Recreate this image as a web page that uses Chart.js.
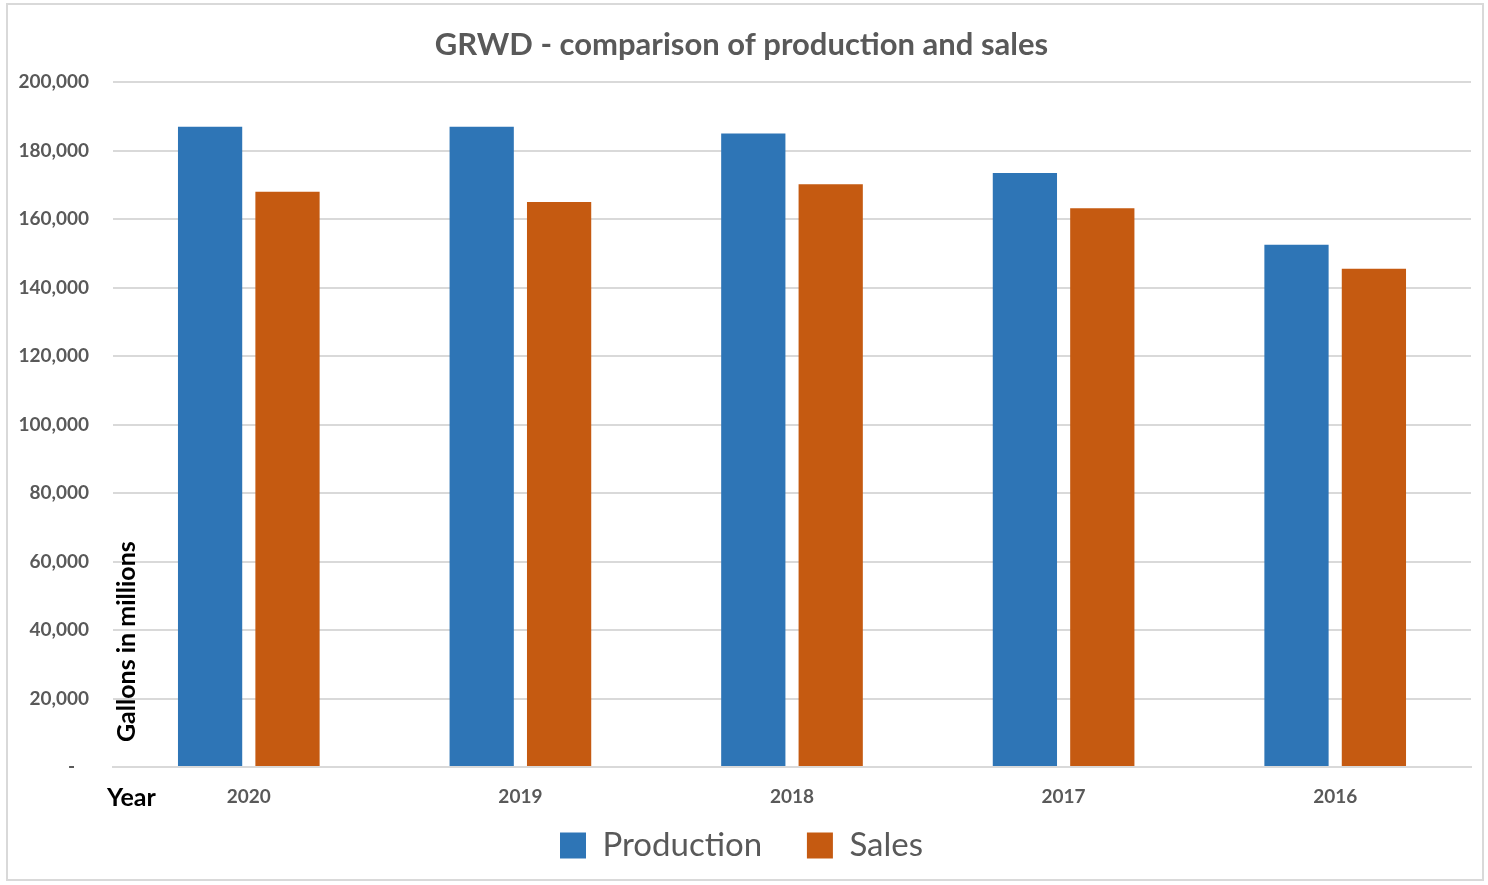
<!DOCTYPE html>
<html>
<head>
<meta charset="utf-8">
<script src="https://cdn.jsdelivr.net/npm/chart.js@4/dist/chart.umd.min.js"></script>
<style>
  html, body { margin: 0; padding: 0; background: #fff; }
  #wrap { position: absolute; left: 6px; top: 3px; width: 1478px; height: 878px; border: 2px solid #d9d9d9; box-sizing: border-box; }
  #chart { display: block; }
</style>
</head>
<body>
<div id="wrap"><canvas id="chart"></canvas></div>
<script>
const years = ['2020', '2019', '2018', '2017', '2016'];
const production = [187000, 187000, 185000, 173500, 152500];
const sales = [168000, 165000, 170200, 163200, 145500];

const gray = '#595959';
const fontFamily = 'Lato, "Open Sans", sans-serif';

// extra labels that Excel puts inside the plot / next to the axis
const extraLabels = {
    id: 'extraLabels',
    afterDraw(chart) {
        const ctx = chart.ctx;
        const area = chart.chartArea;
        ctx.save();
        ctx.fillStyle = '#000';
        ctx.font = 'bold 25px ' + fontFamily;
        ctx.textBaseline = 'middle';
        ctx.textAlign = 'left';
        ctx.fillText('Year', area.left - 6, area.bottom + 31);

        ctx.translate(area.left + 14, area.bottom - 25);
        ctx.rotate(-Math.PI / 2);
        ctx.font = 'bold 25px ' + fontFamily;
        ctx.fillText('Gallons in millions', 0, 0);
        ctx.restore();
    }
};

new Chart(document.getElementById('chart'), {
    type: 'bar',
    data: {
        labels: years,
        datasets: [{
            label: 'Production',
            data: production,
            backgroundColor: '#2E75B6',
            categoryPercentage: 0.57,
            barPercentage: 0.83
        }, {
            label: 'Sales',
            data: sales,
            backgroundColor: '#C55A11',
            categoryPercentage: 0.57,
            barPercentage: 0.83
        }]
    },
    options: {
        responsive: true,
        maintainAspectRatio: false,
        animation: false,
        layout: { padding: { left: 4, right: 11, top: 14, bottom: 7 } },
        plugins: {
            title: {
                display: true,
                text: 'GRWD - comparison of production and sales',
                color: gray,
                font: { family: fontFamily, size: 31, weight: 'bold' },
                padding: { top: 7, bottom: 19 }
            },
            legend: {
                position: 'bottom',
                labels: {
                    color: gray,
                    font: { family: fontFamily, size: 33 },
                    boxWidth: 26,
                    boxHeight: 26,
                    padding: 20,
                    // wider gap between the two entries, like Excel
                    generateLabels(chart) {
                        const items = Chart.defaults.plugins.legend.labels.generateLabels(chart);
                        items.forEach((it, i) => {
                            if (i < items.length - 1) it.text += '\u2003';
                        });
                        return items;
                    }
                }
            },
            tooltip: { enabled: false }
        },
        scales: {
            x: {
                grid: { display: false },
                border: { color: '#d9d9d9', width: 2 },
                ticks: {
                    color: gray,
                    font: { family: fontFamily, size: 19, weight: 'bold' },
                    padding: 10
                },
                afterFit(scale) { scale.height = 42; }
            },
            y: {
                min: 0,
                max: 200000,
                grid: { color: '#d9d9d9', lineWidth: 2, drawTicks: false },
                border: { display: false },
                ticks: {
                    stepSize: 20000,
                    color: gray,
                    padding: 24,
                    font: { family: fontFamily, size: 19, weight: 'bold' },
                    callback: v => v === 0 ? '-   ' : v.toLocaleString('en-US')
                },
                afterFit(scale) { scale.width = 101; }
            }
        }
    },
    plugins: [extraLabels]
});
</script>
</body>
</html>
